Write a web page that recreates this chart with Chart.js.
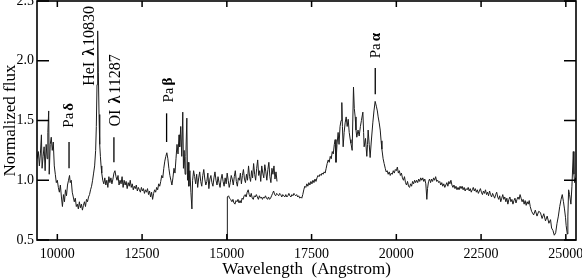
<!DOCTYPE html>
<html>
<head>
<meta charset="utf-8">
<script src="https://cdn.jsdelivr.net/npm/chart.js@4.4.1/dist/chart.umd.min.js"></script>
<style>
  html, body { margin: 0; padding: 0; background: #fff; }
  #wrap { width: 582px; height: 280px; position: relative; }
</style>
</head>
<body>
<div id="wrap"><canvas id="spectre"></canvas></div>
<script>
// Segment J/H (partie haute, 0.94 - 1.65 micron)
const seg1Wave = [
  9400,9440,9470,9500,9530,9550,9580,9610,9640,9670,
  9700,9720,9745,9760,9790,9820,9850,9880,9910,9940,
  9970,10000,10030,10060,10090,10120,10150,10180,10210,10240,
  10270,10300,10330,10360,10380,10410,10440,10470,10500,10530,
  10560,10590,10620,10650,10680,10710,10740,10770,10800,10830,
  10860,10890,10920,10950,10980,11010,11040,11070,11100,11130,
  11150,11170,11190,11210,11230,11250,11270,11290,11310,11340,
  11370,11400,11430,11460,11490,11520,11550,11580,11610,11640,
  11670,11700,11730,11760,11790,11820,11850,11880,11910,11940,
  11970,12000,12030,12060,12090,12120,12150,12180,12210,12240,
  12270,12300,12330,12360,12390,12420,12450,12480,12510,12540,
  12570,12600,12630,12660,12690,12720,12750,12780,12810,12840,
  12870,12900,12930,12960,12990,13020,13050,13080,13110,13140,
  13170,13200,13230,13260,13290,13320,13350,13380,13410,13440,
  13470,13500,13530,13560,13590,13610,13640,13670,13700,13720,
  13740,13770,13790,13820,13840,13860,13880,13910,13940,13970,
  13990,14020,14050,14080,14110,14140,14170,14200,14230,14260,
  14290,14320,14350,14380,14410,14440,14470,14500,14530,14560,
  14590,14620,14650,14680,14710,14740,14770,14800,14830,14860,
  14890,14920,14950,14980,15010,15040,15070,15100,15130,15160,
  15190,15220,15250,15280,15310,15340,15370,15400,15430,15460,
  15490,15520,15550,15580,15610,15640,15670,15700,15730,15760,
  15790,15820,15850,15880,15910,15940,15970,16000,16030,16060,
  16090,16120,16150,16180,16210,16240,16270,16300,16330,16360,
  16390,16420,16450,16480
];
const seg1Flux = [
  1.18,1.24,1.12,1.22,1.38,1.10,1.20,1.28,1.08,1.30,
  1.18,1.40,1.58,1.05,1.30,1.36,1.25,1.32,1.12,1.05,
  0.98,1.00,0.94,0.90,0.96,0.86,0.78,0.88,0.82,0.92,
  0.87,0.96,1.00,1.04,0.98,1.00,0.90,0.86,0.82,0.85,
  0.78,0.80,0.76,0.82,0.77,0.80,0.75,0.79,0.82,0.78,
  0.84,0.82,0.86,0.88,0.92,0.95,1.00,1.06,1.12,1.25,
  1.45,1.80,2.25,1.90,1.55,1.30,1.20,1.12,1.06,1.00,
  0.97,1.02,0.96,1.00,0.94,1.03,0.98,1.02,0.97,1.01,
  1.06,1.08,1.03,1.00,1.04,0.96,1.00,0.97,1.03,0.94,
  1.00,0.96,0.99,0.93,0.98,0.95,1.00,0.94,0.97,0.92,
  0.95,0.93,0.96,0.91,0.94,0.92,0.90,0.94,0.91,0.93,
  0.89,0.92,0.90,0.93,0.88,0.91,0.86,0.90,0.84,0.89,
  0.92,0.90,0.94,0.92,0.97,0.95,0.99,1.04,1.02,1.10,
  1.16,1.20,1.23,1.18,1.10,1.04,1.00,0.96,1.02,1.10,
  1.06,1.18,1.30,1.22,1.38,1.28,1.45,1.20,1.57,1.10,
  1.25,1.05,1.20,1.52,1.00,1.15,0.95,1.08,0.90,0.76,
  1.00,1.08,1.03,0.97,1.05,0.94,1.02,1.07,0.99,0.95,
  1.04,1.09,1.01,0.96,0.99,1.06,0.93,1.01,1.04,0.98,
  0.95,1.02,1.07,1.00,0.96,1.03,0.98,0.94,1.01,1.05,
  0.99,0.95,1.02,0.97,1.06,1.00,0.94,0.98,1.04,1.01,
  0.96,1.03,1.08,0.99,0.95,1.02,1.00,1.06,0.97,1.04,
  1.09,1.01,0.98,1.05,1.00,1.12,1.03,0.99,1.08,1.02,
  1.14,1.05,1.00,1.10,1.17,1.04,1.08,0.99,1.12,1.06,
  1.02,1.13,1.07,1.00,1.09,1.15,1.03,0.98,1.10,1.05,
  1.12,1.01,1.07,0.99
];

// Segment H/K (partie basse, 1.5 - 2.53 micron)
const seg2Wave = [
  15010,15015,15050,15080,15110,15150,15180,15210,15240,15270,
  15300,15330,15360,15390,15420,15450,15480,15510,15540,15570,
  15600,15630,15660,15690,15720,15750,15780,15810,15840,15870,
  15900,15930,15960,15990,16020,16050,16080,16110,16140,16170,
  16200,16230,16260,16290,16320,16350,16380,16410,16440,16470,
  16500,16530,16560,16590,16620,16650,16680,16710,16740,16770,
  16800,16830,16860,16890,16920,16950,16980,17000,17030,17060,
  17090,17120,17150,17180,17210,17240,17270,17300,17330,17360,
  17390,17420,17450,17480,17510,17540,17570,17600,17630,17660,
  17690,17720,17750,17780,17810,17840,17870,17900,17930,17960,
  17990,18020,18050,18080,18110,18140,18170,18195,18220,18250,
  18283,18310,18340,18370,18392,18410,18431,18460,18490,18520,
  18550,18580,18610,18640,18660,18697,18736,18760,18786,18810,
  18834,18870,18904,18940,18970,19013,19035,19050,19090,19129,
  19150,19168,19200,19227,19260,19306,19340,19375,19410,19440,
  19464,19495,19525,19550,19574,19610,19640,19673,19700,19730,
  19760,19790,19820,19850,19880,19910,19940,19970,20000,20030,
  20060,20090,20120,20150,20180,20210,20240,20270,20300,20330,
  20360,20390,20420,20450,20480,20510,20540,20570,20600,20630,
  20660,20690,20720,20750,20780,20810,20840,20870,20900,20920,
  20950,20980,21010,21040,21070,21100,21130,21160,21190,21220,
  21250,21280,21310,21340,21370,21400,21430,21460,21490,21520,
  21550,21580,21610,21640,21670,21700,21730,21760,21790,21820,
  21850,21880,21910,21940,21970,22000,22030,22060,22090,22120,
  22150,22180,22210,22240,22270,22300,22330,22360,22390,22420,
  22450,22480,22510,22540,22570,22600,22630,22660,22690,22720,
  22750,22780,22810,22840,22870,22900,22930,22960,22990,23020,
  23050,23080,23110,23140,23170,23200,23230,23260,23290,23320,
  23350,23380,23410,23440,23470,23500,23530,23560,23590,23620,
  23650,23680,23710,23740,23770,23800,23830,23860,23890,23920,
  23950,23990,24050,24100,24150,24200,24250,24300,24350,24400,
  24450,24500,24549,24580,24620,24660,24700,24740,24780,24820,
  24860,24895,24930,24960,24990,25010,25043,25060,25082,25110,
  25150,25180,25220,25240,25260,25290,25310
];
const seg2Flux = [
  0.50,0.86,0.87,0.85,0.84,0.82,0.84,0.81,0.80,0.83,
  0.82,0.84,0.81,0.83,0.81,0.85,0.84,0.87,0.88,0.86,
  0.90,0.92,0.88,0.86,0.89,0.85,0.84,0.87,0.86,0.88,
  0.86,0.84,0.87,0.85,0.86,0.84,0.86,0.85,0.87,0.85,
  0.84,0.86,0.84,0.85,0.87,0.89,0.91,0.88,0.87,0.89,
  0.88,0.87,0.89,0.88,0.86,0.88,0.87,0.86,0.88,0.86,
  0.87,0.89,0.87,0.86,0.88,0.87,0.89,0.88,0.87,0.88,
  0.86,0.87,0.85,0.86,0.85,0.88,0.92,0.95,0.94,0.97,
  0.95,0.98,0.96,0.99,0.97,1.00,0.98,1.01,0.99,1.02,
  1.04,1.03,1.05,1.04,1.06,1.05,1.07,1.06,1.10,1.14,
  1.17,1.15,1.20,1.18,1.24,1.22,1.30,1.34,1.15,1.30,
  1.40,1.30,1.45,1.50,1.65,1.45,1.28,1.40,1.48,1.53,
  1.45,1.51,1.40,1.34,1.31,1.25,1.78,1.60,1.53,1.42,
  1.36,1.42,1.37,1.45,1.50,1.57,1.40,1.28,1.35,1.20,
  1.30,1.42,1.30,1.19,1.32,1.48,1.58,1.66,1.62,1.58,
  1.53,1.48,1.42,1.33,1.26,1.18,1.14,1.10,1.07,1.08,
  1.05,1.07,1.04,1.06,1.05,1.08,1.06,1.09,1.08,1.11,
  1.06,1.08,1.04,1.06,1.02,1.00,1.03,0.98,0.96,0.99,
  0.95,0.94,0.97,0.95,0.99,0.97,1.00,0.98,1.00,0.98,
  1.01,0.99,1.02,1.00,1.02,0.99,1.01,0.97,0.84,0.93,
  0.99,1.01,0.98,1.01,0.99,1.02,1.00,1.03,0.99,1.00,
  0.98,0.99,0.96,0.98,0.95,0.97,0.94,0.96,0.98,0.95,
  0.99,0.97,1.00,0.96,0.94,0.96,0.93,0.95,0.92,0.94,
  0.92,0.95,0.93,0.95,0.92,0.94,0.91,0.93,0.92,0.94,
  0.91,0.93,0.90,0.92,0.94,0.91,0.93,0.90,0.92,0.89,
  0.91,0.93,0.90,0.88,0.91,0.89,0.92,0.88,0.90,0.87,
  0.91,0.88,0.86,0.89,0.87,0.85,0.88,0.90,0.86,0.84,
  0.87,0.82,0.85,0.88,0.84,0.86,0.82,0.85,0.80,0.84,
  0.86,0.82,0.84,0.80,0.83,0.85,0.81,0.84,0.86,0.84,
  0.88,0.85,0.82,0.84,0.80,0.83,0.79,0.82,0.80,0.83,
  0.78,0.74,0.71,0.75,0.70,0.74,0.73,0.68,0.72,0.66,
  0.70,0.64,0.67,0.60,0.58,0.54,0.56,0.64,0.70,0.78,
  0.84,0.88,0.82,0.76,0.69,0.62,0.55,0.70,0.92,0.88,
  0.80,0.95,1.24,1.05,0.98,1.02,1.01
];

const xTicks = [10000, 12500, 15000, 17500, 20000, 22500, 25000];
const yTicks = [0.5, 1.0, 1.5, 2.0, 2.5];

// Raies identifiees : texte vertical + petit trait
const raies = [
  { parts: [['Pa', false], ['δ', true]],                     lambda: 10334, fluxTexte: 1.44, taille: 15, traitLambda: 10345, trait: [1.10, 1.32] },
  { parts: [['HeI ', false], ['λ', true], ['10830', false]], lambda: 10953, fluxTexte: 1.79, taille: 16, traitLambda: null,  trait: null },
  { parts: [['OI ', false], ['λ', true], ['11287', false]],  lambda: 11719, fluxTexte: 1.45, taille: 16, traitLambda: 11669, trait: [1.15, 1.36] },
  { parts: [['Pa', false], ['β', true]],                     lambda: 13282, fluxTexte: 1.65, taille: 15, traitLambda: 13223, trait: [1.32, 1.56] },
  { parts: [['Pa', false], ['α', true]],                     lambda: 19407, fluxTexte: 2.02, taille: 15, traitLambda: 19378, trait: [1.72, 1.94] }
];

const serif = '"Liberation Serif", "Times New Roman", serif';
const toPoints = (w, f) => w.map((x, i) => ({ x, y: f[i] }));

const cadre = {
  id: 'cadre',
  afterDatasetsDraw(chart) {
    const { ctx, chartArea: a, scales: { x, y } } = chart;
    ctx.save();
    ctx.strokeStyle = '#000';
    ctx.lineWidth = 1.6;
    ctx.strokeRect(a.left, a.top, a.right - a.left, a.bottom - a.top);

    // ticks vers l'interieur
    ctx.lineWidth = 1.5;
    ctx.beginPath();
    yTicks.forEach(v => {
      const py = y.getPixelForValue(v);
      ctx.moveTo(a.left, py);  ctx.lineTo(a.left + 12, py);
      ctx.moveTo(a.right, py); ctx.lineTo(a.right - 12, py);
    });
    xTicks.forEach(v => {
      const px = x.getPixelForValue(v);
      ctx.moveTo(px, a.bottom); ctx.lineTo(px, a.bottom - 6);
      ctx.moveTo(px, a.top);    ctx.lineTo(px, a.top + 6);
    });
    ctx.stroke();

    // raies
    ctx.fillStyle = '#000';
    ctx.lineWidth = 1.3;
    raies.forEach(r => {
      if (r.trait) {
        const px = x.getPixelForValue(r.traitLambda);
        ctx.beginPath();
        ctx.moveTo(px, y.getPixelForValue(r.trait[0]));
        ctx.lineTo(px, y.getPixelForValue(r.trait[1]));
        ctx.stroke();
      }
      ctx.save();
      ctx.translate(x.getPixelForValue(r.lambda), y.getPixelForValue(r.fluxTexte));
      ctx.rotate(-Math.PI / 2);
      ctx.textAlign = 'left';
      ctx.textBaseline = 'middle';
      let off = 0;
      r.parts.forEach(([t, gras]) => {
        ctx.font = (gras ? 'bold ' : '') + r.taille + 'px ' + serif;
        ctx.fillText(t, off, 0);
        off += ctx.measureText(t).width + 2;
      });
      ctx.restore();
    });
    ctx.restore();
  }
};

new Chart(document.getElementById('spectre'), {
  type: 'line',
  data: {
    datasets: [
      { data: toPoints(seg1Wave, seg1Flux), borderColor: '#1c1c1c', borderWidth: 1, pointRadius: 0, tension: 0 },
      { data: toPoints(seg2Wave, seg2Flux), borderColor: '#1c1c1c', borderWidth: 1, pointRadius: 0, tension: 0 }
    ]
  },
  options: {
    responsive: true,
    maintainAspectRatio: false,
    animation: false,
    events: [],
    layout: { padding: { top: 1, right: 6, left: 0, bottom: 0 } },
    plugins: { legend: { display: false }, tooltip: { enabled: false } },
    scales: {
      x: {
        type: 'linear', min: 9400, max: 25300,
        grid: { display: false, drawTicks: false }, border: { display: false },
        afterBuildTicks: s => { s.ticks = xTicks.map(v => ({ value: v })); },
        afterFit: s => { s.height = 40; s.paddingLeft = 0; s.paddingRight = 0; },
        ticks: { color: '#000', font: { family: serif, size: 14 }, padding: 6, maxRotation: 0, autoSkip: false,
                 callback: v => String(v) },
        title: { display: true, text: 'Wavelength  (Angstrom)', color: '#000', font: { family: serif, size: 17 }, padding: { top: 0, bottom: 0 } }
      },
      y: {
        type: 'linear', min: 0.5, max: 2.5,
        grid: { display: false, drawTicks: false }, border: { display: false },
        afterBuildTicks: s => { s.ticks = yTicks.map(v => ({ value: v })); },
        afterFit: s => { s.width = 37; s.paddingTop = 0; s.paddingBottom = 0; },
        ticks: { color: '#000', font: { family: serif, size: 14 }, padding: 3,
                 callback: v => v.toFixed(1) },
        title: { display: true, text: 'Normalized flux', color: '#000', font: { family: serif, size: 17 }, padding: { top: 0, bottom: 0 } }
      }
    }
  },
  plugins: [cadre]
});
</script>
</body>
</html>
